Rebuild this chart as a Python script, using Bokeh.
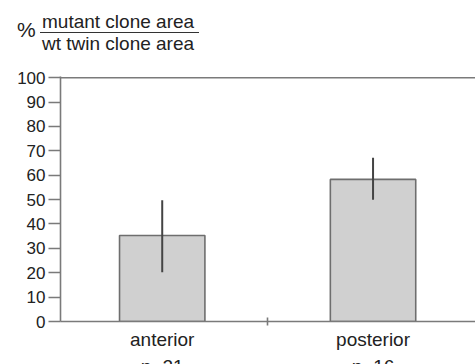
from bokeh.plotting import figure
from bokeh.layouts import column
from bokeh.models import Range1d, FixedTicker, Span, ColumnDataSource, Div
from bokeh.core.properties import value
from bokeh.embed import file_html
from bokeh.resources import INLINE

# ---- data ----
categories = ["anterior", "posterior"]
sample_sizes = ["n=21", "n=16"]
positions = [1, 3]
means = [35.3, 58.3]
err_low = [20.2, 49.9]
err_high = [49.7, 67.2]
y_ticks = [0, 10, 20, 30, 40, 50, 60, 70, 80, 90, 100]
separator_ticks = [2]
header_percent = "%"
header_numerator = "mutant clone area"
header_denominator = "wt twin clone area"

FONT = "Liberation Sans"
AXIS_COLOR = "#7a7a7a"
TEXT_COLOR = "#222222"
W = 475

x_range = Range1d(0.035, 3.972)

# ---------- header (fraction-style y label) ----------
HEAD_H = 70
header_html = (
    f"<div style=\"position:relative;width:{W}px;height:{HEAD_H}px;"
    f"font-family:'{FONT}',Arial,sans-serif;font-size:19px;line-height:19px;color:{TEXT_COLOR};\">"
    f"<span style=\"position:absolute;left:17px;top:19.5px;font-size:21px;white-space:nowrap;\">{header_percent}</span>"
    f"<span style=\"position:absolute;left:42px;top:11.5px;white-space:nowrap;\">{header_numerator}</span>"
    f"<div style=\"position:absolute;left:40px;top:31.5px;width:159px;height:1.5px;background:#333333;\"></div>"
    f"<span style=\"position:absolute;left:42px;top:33.5px;white-space:nowrap;\">{header_denominator}</span>"
    f"</div>"
)
head = Div(text=header_html, width=W, height=HEAD_H, margin=0)

# ---------- main chart ----------
src = ColumnDataSource(dict(x=positions, top=means, lo=err_low, hi=err_high))

MAIN_H = 282
p = figure(width=W, height=MAIN_H, output_backend="svg", toolbar_location=None,
           x_range=x_range, y_range=Range1d(0, 100.5),
           min_border_left=60, min_border_right=0, min_border_top=6,
           min_border_bottom=27)
p.outline_line_color = None
p.xgrid.visible = False
p.ygrid.visible = False

p.vbar(x="x", top="top", bottom=0, width=0.81, source=src,
       fill_color="#d0d0d0", line_color="#6e6e6e", line_width=1.6)
p.segment(x0="x", y0="lo", x1="x", y1="hi", source=src,
          line_color="#444444", line_width=2)

ya = p.yaxis[0]
ya.ticker = FixedTicker(ticks=y_ticks, minor_ticks=[])
ya.axis_line_color = AXIS_COLOR
ya.axis_line_width = 1.6
ya.major_tick_line_color = AXIS_COLOR
ya.major_tick_line_width = 1.6
ya.major_tick_in = 0
ya.major_tick_out = 12
ya.major_label_standoff = 3
ya.major_label_text_font = FONT
ya.major_label_text_font_size = "17px"
ya.major_label_text_color = TEXT_COLOR

xa = p.xaxis[0]
xa.ticker = FixedTicker(ticks=positions, minor_ticks=separator_ticks)
xa.major_label_overrides = {pos: lab for pos, lab in zip(positions, categories)}
xa.axis_line_color = AXIS_COLOR
xa.axis_line_width = 1.6
xa.major_tick_in = 0
xa.major_tick_out = 0
xa.major_tick_line_color = None
xa.minor_tick_in = 4
xa.minor_tick_out = 4
xa.minor_tick_line_color = AXIS_COLOR
xa.minor_tick_line_width = 1.6
xa.major_label_standoff = 3
xa.major_label_text_font = FONT
xa.major_label_text_font_size = "19px"
xa.major_label_text_color = TEXT_COLOR

p.add_layout(Span(location=100, dimension="width", line_color=AXIS_COLOR, line_width=1.6))

# ---------- footer: sample sizes (second line of category labels) ----------
FOOT_H = 12
foot = figure(width=W, height=FOOT_H, output_backend="svg", toolbar_location=None,
              x_range=x_range, y_range=Range1d(FOOT_H, 0),
              x_axis_type=None, y_axis_type=None,
              min_border_left=60, min_border_right=0, min_border_top=0, min_border_bottom=0)
foot.outline_line_color = None
foot.xgrid.visible = False
foot.ygrid.visible = False
foot.text(x=positions, y=[14, 14], text=sample_sizes, text_baseline="alphabetic",
          text_align="center", text_font=value(FONT), text_font_size="19px",
          text_color=TEXT_COLOR)

layout = column(head, p, foot, spacing=0)
open("out.html", "w").write(file_html(layout, INLINE))
